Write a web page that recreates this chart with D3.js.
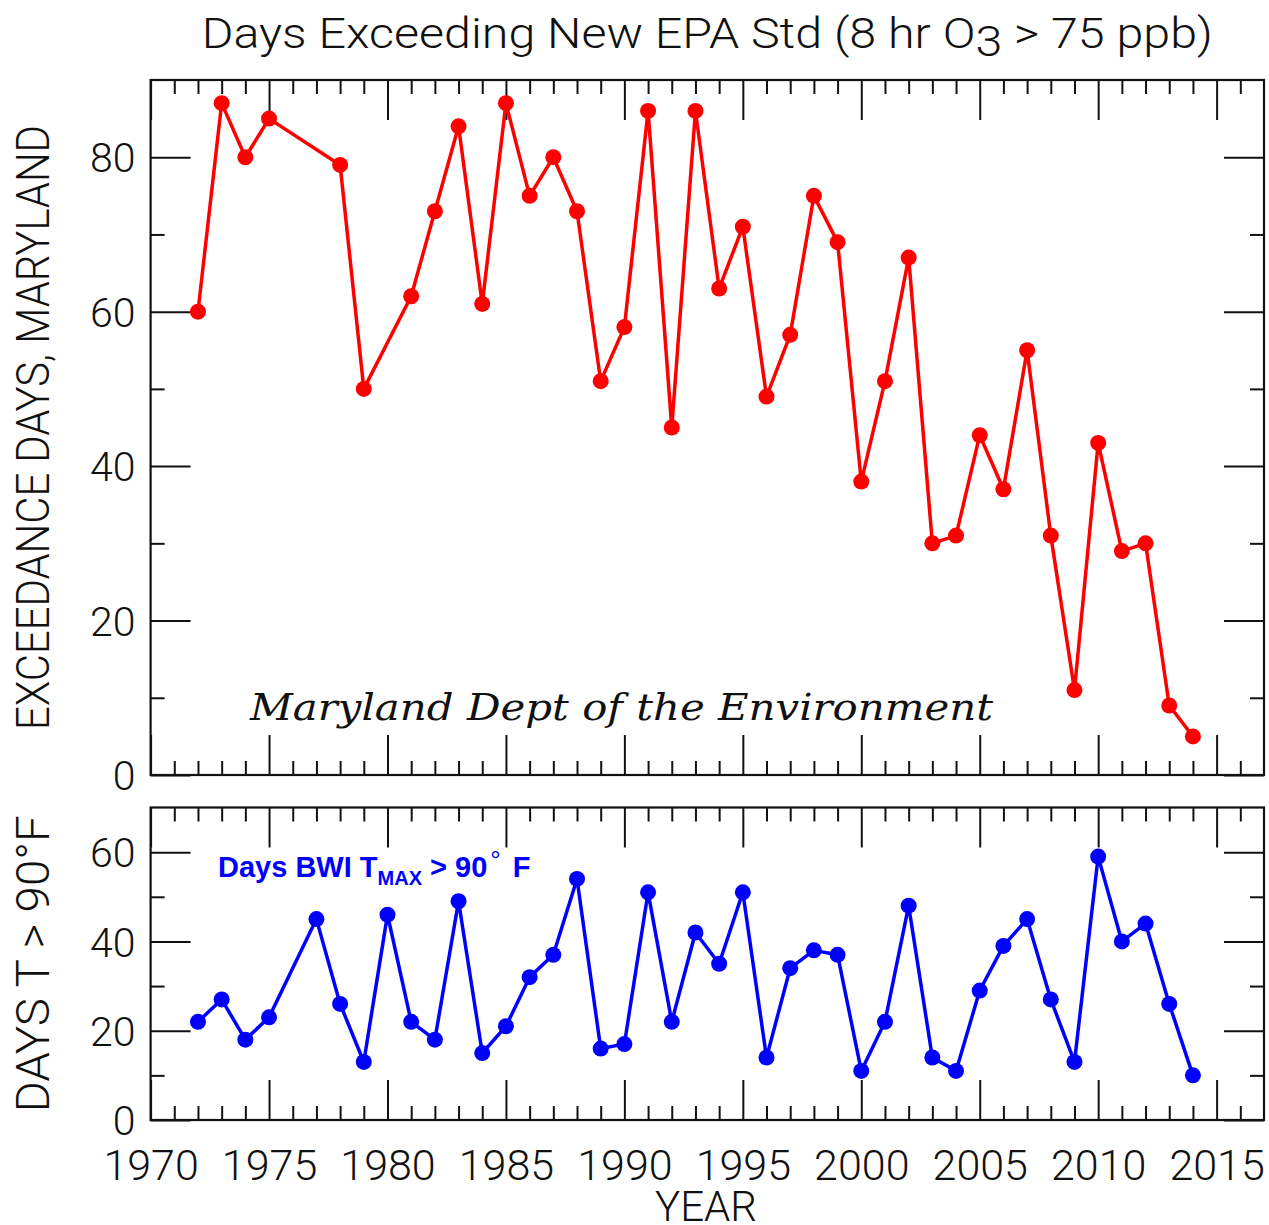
<!DOCTYPE html>
<html>
<head>
<meta charset="utf-8">
<script src="https://cdn.jsdelivr.net/npm/d3@7"></script>
<style>
  body { margin: 0; background: #fff; }
  svg { display: block; }
  .lbl text { font-family: Roboto, "Liberation Sans", sans-serif; font-weight: 300; fill: #111; }
  .ticks line { stroke: #111; stroke-width: 2; }
</style>
</head>
<body>
<div id="graph"></div>
<script>
//Data
const ozoneYears = [1972, 1973, 1974, 1975, 1978, 1979, 1981, 1982, 1983, 1984, 1985, 1986, 1987, 1988,
    1989, 1990, 1991, 1992, 1993, 1994, 1995, 1996, 1997, 1998, 1999, 2000, 2001, 2002, 2003, 2004,
    2005, 2006, 2007, 2008, 2009, 2010, 2011, 2012, 2013, 2014];
const ozoneDays = [60, 87, 80, 85, 79, 50, 62, 73, 84, 61, 87, 75, 80, 73,
    51, 58, 86, 45, 86, 63, 71, 49, 57, 75, 69, 38, 51, 67, 30, 31,
    44, 37, 55, 31, 11, 43, 29, 30, 9, 5];
const heatYears = [1972, 1973, 1974, 1975, 1977, 1978, 1979, 1980, 1981, 1982, 1983, 1984, 1985, 1986,
    1987, 1988, 1989, 1990, 1991, 1992, 1993, 1994, 1995, 1996, 1997, 1998, 1999, 2000, 2001, 2002,
    2003, 2004, 2005, 2006, 2007, 2008, 2009, 2010, 2011, 2012, 2013, 2014];
const heatDays = [22, 27, 18, 23, 45, 26, 13, 46, 22, 18, 49, 15, 21, 32,
    37, 54, 16, 17, 51, 22, 42, 35, 51, 14, 34, 38, 37, 11, 22, 48,
    14, 11, 29, 39, 45, 27, 13, 59, 40, 44, 26, 10];
const xLabels = [1970, 1975, 1980, 1985, 1990, 1995, 2000, 2005, 2010, 2015];
const ozoneLabels = [0, 20, 40, 60, 80];
const heatLabels = [0, 20, 40, 60];

//General config
const width = 1269, height = 1225;
const left = 150.6, right = 1264;
const top1 = 80, bottom1 = 775;
const top2 = 807.5, bottom2 = 1120;
const majorLen = 40, minorLen = 14;

const svg = d3.select('#graph').append('svg')
    .attr('width', width)
    .attr('height', height);

//Scales
const x = d3.scaleLinear().domain([1970, 2017]).range([left, right]);
const y1 = d3.scaleLinear().domain([0, 90]).range([bottom1, top1]);
const y2 = d3.scaleLinear().domain([0, 70]).range([bottom2, top2]);

const yearsMinor = d3.range(1971, 2017).filter(d => d % 5 !== 0);
const yearsMajor = d3.range(1970, 2017, 5);

//Draws inward ticks on all four sides of one panel
function frameTicks(y, top, bottom, majors, minors) {
    const g = svg.append('g').attr('class', 'ticks');
    const sets = [[yearsMajor, majorLen], [yearsMinor, minorLen]];
    sets.forEach(([vals, len]) => {
        g.append('g').attr('transform', `translate(0,${top})`)
            .call(d3.axisBottom(x).tickValues(vals).tickSize(len).tickFormat(''));
        g.append('g').attr('transform', `translate(0,${bottom})`)
            .call(d3.axisTop(x).tickValues(vals).tickSize(len).tickFormat(''));
    });
    [[majors, majorLen], [minors, minorLen]].forEach(([vals, len]) => {
        g.append('g').attr('transform', `translate(${left},0)`)
            .call(d3.axisRight(y).tickValues(vals).tickSize(len).tickFormat(''));
        g.append('g').attr('transform', `translate(${right},0)`)
            .call(d3.axisLeft(y).tickValues(vals).tickSize(len).tickFormat(''));
    });
    g.selectAll('.domain').remove();
    g.selectAll('.tick line').attr('stroke', '#111').attr('stroke-width', 2);

    svg.append('rect')
        .attr('x', left).attr('y', top)
        .attr('width', right - left).attr('height', bottom - top)
        .attr('fill', 'none').attr('stroke', '#111').attr('stroke-width', 2.2);
}

frameTicks(y1, top1, bottom1, ozoneLabels, [10, 30, 50, 70]);
frameTicks(y2, top2, bottom2, heatLabels, [10, 30, 50]);

//Tick labels
function yLabels(y, vals) {
    const g = svg.append('g').attr('class', 'lbl')
        .attr('transform', `translate(${left},0)`)
        .call(d3.axisLeft(y).tickValues(vals).tickSize(0).tickPadding(15));
    g.select('.domain').remove();
    g.selectAll('text').attr('font-size', 41).attr('dy', '0.36em');
}
yLabels(y1, ozoneLabels);
yLabels(y2, heatLabels);

const xg = svg.append('g').attr('class', 'lbl')
    .attr('transform', `translate(0,${bottom2})`)
    .call(d3.axisBottom(x).tickValues(xLabels).tickSize(0).tickPadding(29).tickFormat(d3.format('d')));
xg.select('.domain').remove();
xg.selectAll('text').attr('font-size', 43);

//Lines and points
function series(years, vals, y, color) {
    const pts = years.map((yr, i) => ({year: yr, value: vals[i]}));
    const line = d3.line().x(d => x(d.year)).y(d => y(d.value));
    svg.append('path')
        .datum(pts)
        .attr('d', line)
        .attr('fill', 'none')
        .attr('stroke', color)
        .attr('stroke-width', 3.5)
        .attr('stroke-linejoin', 'round');
    svg.append('g').selectAll('circle')
        .data(pts)
        .enter()
        .append('circle')
        .attr('cx', d => x(d.year))
        .attr('cy', d => y(d.value))
        .attr('r', 8)
        .attr('fill', color);
}
series(ozoneYears, ozoneDays, y1, '#ff0000');
series(heatYears, heatDays, y2, '#0000ff');

//Titles
const sans = 'Roboto, "Liberation Sans", sans-serif';
const title = svg.append('text')
    .attr('x', (left + right) / 2).attr('y', 48)
    .attr('text-anchor', 'middle')
    .attr('font-family', sans).attr('font-weight', 300)
    .attr('font-size', 42).attr('fill', '#111')
    .attr('textLength', 1011).attr('lengthAdjust', 'spacingAndGlyphs');
title.append('tspan').text('Days Exceeding New EPA Std (8 hr O');
title.append('tspan').attr('dy', 8).text('3');
title.append('tspan').attr('dy', -8).text(' > 75 ppb)');

svg.append('text')
    .attr('transform', `translate(49,${(top1 + bottom1) / 2}) rotate(-90)`)
    .attr('text-anchor', 'middle')
    .attr('font-family', sans).attr('font-weight', 300)
    .attr('font-size', 47).attr('fill', '#111')
    .attr('textLength', 605).attr('lengthAdjust', 'spacingAndGlyphs')
    .text('EXCEEDANCE DAYS, MARYLAND');

svg.append('text')
    .attr('transform', `translate(49,${(top2 + bottom2) / 2}) rotate(-90)`)
    .attr('text-anchor', 'middle')
    .attr('font-family', sans).attr('font-weight', 300)
    .attr('font-size', 47).attr('fill', '#111')
    .attr('textLength', 297).attr('lengthAdjust', 'spacingAndGlyphs')
    .text('DAYS T > 90°F');

svg.append('text')
    .attr('x', 706).attr('y', 1221)
    .attr('text-anchor', 'middle')
    .attr('font-family', sans).attr('font-weight', 300)
    .attr('font-size', 42).attr('fill', '#111')
    .text('YEAR');

//Annotations
svg.append('text')
    .attr('x', 250).attr('y', 720)
    .attr('font-family', '"DejaVu Serif", serif').attr('font-style', 'italic')
    .attr('font-size', 38).attr('fill', '#111')
    .attr('textLength', 743).attr('lengthAdjust', 'spacingAndGlyphs')
    .text('Maryland Dept of the Environment');

const bwi = svg.append('text')
    .attr('x', 218).attr('y', 877)
    .attr('font-family', '"Liberation Sans", Arial, sans-serif').attr('font-weight', 'bold')
    .attr('font-size', 29).attr('fill', '#0000ff');
bwi.append('tspan').text('Days BWI T');
bwi.append('tspan').attr('dy', 8).attr('font-size', 20).text('MAX');
bwi.append('tspan').attr('dy', -8).text(' > 90');
bwi.append('tspan').attr('dy', -8).attr('dx', 3).attr('font-size', 26).attr('font-weight', 'normal').text('°');
bwi.append('tspan').attr('dy', 8).attr('dx', 12).text('F');
</script>
</body>
</html>
